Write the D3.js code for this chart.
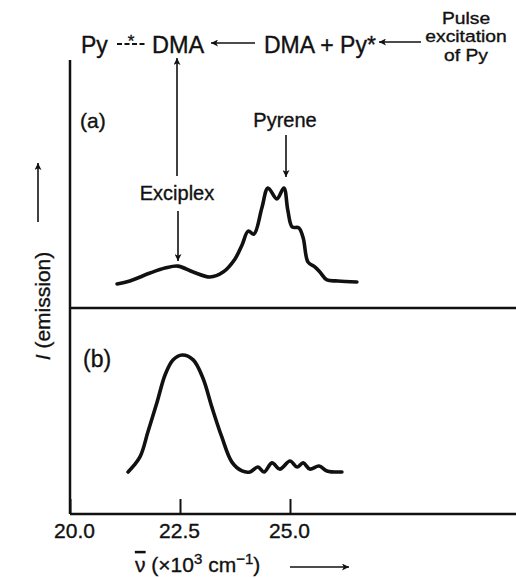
<!DOCTYPE html>
<html>
<head>
<meta charset="utf-8">
<script src="https://cdn.jsdelivr.net/npm/d3@7"></script>
<style>
  body { margin: 0; background: #fff; }
  svg { display: block; }
  text { font-family: "Liberation Sans", Arial, Helvetica, sans-serif; fill: #111; stroke: #111; stroke-width: 0.35px; }
</style>
</head>
<body>
<svg id="chart" width="516" height="578"></svg>
<script>
// Wavenumber axis ticks (×10^3 cm^-1)
const tickValues = [20.0, 22.5, 25.0];
const tickLabels = ["20.0", "22.5", "25.0"];

// (a) steady emission: exciplex band plus structured pyrene monomer band
const wavenumberA = [21.07, 21.36, 21.82, 22.16, 22.45, 22.80, 23.18, 23.48, 23.75, 23.91,
                     24.05, 24.18, 24.36, 24.50, 24.70, 24.86, 24.95, 25.05, 25.20, 25.30,
                     25.41, 25.57, 25.68, 25.84, 26.09, 26.52];
const emissionA   = [9.7, 10.9, 14.1, 16.1, 16.9, 14.5, 12.5, 14.5, 19.8, 25.4,
                     31.0, 29.8, 40.3, 48.4, 44.0, 48.4, 39.5, 32.7, 32.3, 28.2,
                     18.5, 16.5, 14.5, 11.3, 10.9, 10.5];

// (b) delayed emission: exciplex band dominates
const wavenumberB = [21.32, 21.59, 21.77, 21.98, 22.16, 22.34, 22.55, 22.80, 23.02, 23.23,
                     23.45, 23.68, 23.91, 24.09, 24.27, 24.41, 24.59, 24.77, 25.00, 25.16,
                     25.30, 25.45, 25.66, 25.84, 26.18];
const emissionB   = [20.4, 27.7, 39.8, 54.4, 67.5, 74.8, 77.2, 74.8, 66.0, 51.5,
                     37.4, 25.2, 20.9, 20.4, 22.8, 20.4, 24.8, 21.8, 25.7, 22.8,
                     24.8, 21.8, 23.3, 20.9, 20.4];

const ink = "#111";
const svg = d3.select("#chart");

// arrowhead marker
svg.append("defs").append("marker")
  .attr("id", "head")
  .attr("viewBox", "0 0 10 10")
  .attr("refX", 10).attr("refY", 5)
  .attr("markerUnits", "userSpaceOnUse")
  .attr("markerWidth", 9).attr("markerHeight", 7)
  .attr("orient", "auto")
  .append("path").attr("d", "M0,0 L10,5 L0,10 L2.5,5 Z").attr("fill", ink);

const x = d3.scaleLinear().domain([20, 30]).range([70, 510]);
const yA = d3.scaleLinear().domain([0, 100]).range([308, 60]);
const yB = d3.scaleLinear().domain([0, 100]).range([514, 308]);

// frame: left axis, panel divider, bottom axis
svg.append("line").attr("x1", x(20)).attr("x2", x(20)).attr("y1", yA(100)).attr("y2", yB(0))
  .attr("stroke", ink).attr("stroke-width", 2.5);
svg.append("line").attr("x1", x(20)).attr("x2", 516).attr("y1", yB(100)).attr("y2", yB(100))
  .attr("stroke", ink).attr("stroke-width", 2.5);
svg.append("line").attr("x1", x(20)).attr("x2", 516).attr("y1", yB(0)).attr("y2", yB(0))
  .attr("stroke", ink).attr("stroke-width", 2.5);

// bottom ticks pointing inward
const xAxis = d3.axisBottom(x)
  .tickValues(tickValues)
  .tickFormat((d, i) => tickLabels[i])
  .tickSizeInner(-15).tickSizeOuter(0).tickPadding(9);
const gx = svg.append("g").attr("transform", `translate(0,${yB(0)})`).call(xAxis);
gx.select(".domain").remove();
gx.selectAll(".tick line").attr("stroke", ink).attr("stroke-width", 2);
gx.selectAll(".tick text").attr("font-size", 21).attr("font-family", "Liberation Sans, Arial, sans-serif")
  .attr("fill", ink).attr("dx", (d, i) => i === 0 ? 4 : -1);

// spectra
const lineA = d3.line().x((d, i) => x(wavenumberA[i])).y(d => yA(d)).curve(d3.curveCatmullRom.alpha(0.5));
const lineB = d3.line().x((d, i) => x(wavenumberB[i])).y(d => yB(d)).curve(d3.curveCatmullRom.alpha(0.5));
svg.append("path").attr("d", lineA(emissionA)).attr("fill", "none").attr("stroke", ink)
  .attr("stroke-width", 3.6).attr("stroke-linejoin", "round").attr("stroke-linecap", "round");
svg.append("path").attr("d", lineB(emissionB)).attr("fill", "none").attr("stroke", ink)
  .attr("stroke-width", 3.6).attr("stroke-linejoin", "round").attr("stroke-linecap", "round");

// helper for thin arrows
function arrow(x1, y1, x2, y2) {
  svg.append("line").attr("x1", x1).attr("y1", y1).attr("x2", x2).attr("y2", y2)
    .attr("stroke", ink).attr("stroke-width", 1.6).attr("marker-end", "url(#head)");
}

// panel labels
svg.append("text").attr("x", 80).attr("y", 128).attr("font-size", 21).text("(a)");
svg.append("text").attr("x", 83).attr("y", 367).attr("font-size", 23).text("(b)");

// band annotations
svg.append("text").attr("x", 285).attr("y", 127).attr("font-size", 20).attr("text-anchor", "middle").text("Pyrene");
arrow(286, 135, 286, 177);
svg.append("text").attr("x", 177).attr("y", 200).attr("font-size", 20).attr("text-anchor", "middle").text("Exciplex");
arrow(178, 211, 178, 261);
arrow(177, 176, 177, 58);

// reaction scheme across the top
svg.append("text").attr("x", 81).attr("y", 53).attr("font-size", 23).text("Py");
svg.append("line").attr("x1", 117).attr("x2", 146).attr("y1", 44).attr("y2", 44)
  .attr("stroke", ink).attr("stroke-width", 2).attr("stroke-dasharray", "5,2.5");
svg.append("text").attr("x", 131).attr("y", 47).attr("font-size", 17).attr("text-anchor", "middle").text("*");
svg.append("text").attr("x", 152).attr("y", 53).attr("font-size", 23.5).text("DMA");
arrow(255, 43, 211, 43);
svg.append("text").attr("x", 264).attr("y", 53).attr("font-size", 23).text("DMA + Py*");
arrow(421, 42, 379, 42);
const pulse = svg.append("text").attr("font-size", 16.5).attr("text-anchor", "middle")
  .attr("transform", "translate(466,0) scale(1.17,1)");
[["Pulse", 24], ["excitation", 42.5], ["of Py", 61]].forEach(([t, yy]) =>
  pulse.append("tspan").attr("x", 0).attr("y", yy).text(t));

// vertical axis title
const yt = svg.append("text").attr("transform", "translate(50,306) rotate(-90)")
  .attr("font-size", 21).attr("text-anchor", "middle");
yt.append("tspan").attr("font-style", "italic").text("I");
yt.append("tspan").text(" (emission)");
arrow(38, 222, 38, 163);

// horizontal axis title: wavenumber symbol carries an overbar
const xt = svg.append("text").attr("x", 135).attr("y", 572).attr("font-size", 21);
xt.append("tspan").style("text-decoration", "overline").text("\u03BD");
xt.append("tspan").text(" (\u00D710");
xt.append("tspan").attr("dy", -8).attr("font-size", 15).text("3");
xt.append("tspan").attr("dy", 8).text(" cm");
xt.append("tspan").attr("dy", -8).attr("font-size", 15).text("\u22121");
xt.append("tspan").attr("dy", 8).text(")");
arrow(290, 567, 349, 567);
</script>
</body>
</html>
